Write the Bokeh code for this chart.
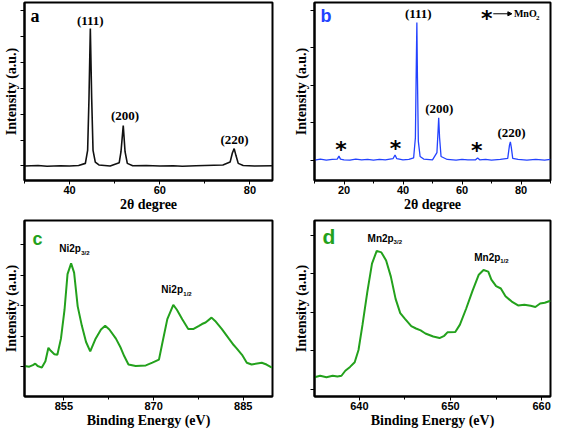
from bokeh.plotting import figure
from bokeh.layouts import column, row
from bokeh.models import FixedTicker, Label, Arrow, NormalHead, Range1d, CustomJSTickFormatter
from bokeh.embed import file_html
from bokeh.resources import INLINE

# ---------------- data ----------------
# (a) XRD, Ni
a_x = [30, 33, 35, 38, 40, 42, 43.5, 44.0, 44.3, 44.6, 44.9, 45.2, 45.7, 46.5, 49, 51.0, 51.4, 51.9,
       52.3, 52.8, 54, 57, 60, 63, 65, 68, 70, 74, 75.6, 76.1, 76.5, 76.9, 77.4, 78.5, 81, 85]
a_y = [0.0, 0.02, -0.01, 0.01, 0.0, 0.02, 0.1, 0.6, 2.6, 5.3, 2.6, 0.6, 0.15, 0.04, 0.0, 0.12, 0.55, 1.56,
       0.55, 0.1, 0.01, 0.02, 0.0, 0.01, -0.01, 0.01, 0.02, 0.04, 0.15, 0.5, 0.67, 0.4, 0.1, 0.02, 0.0, 0.01]
a_labels = ["(111)", "(200)", "(220)"]
a_label_x = [44.6, 52.3, 76.6]
a_label_y = [5.6, 1.96, 1.01]

# (b) XRD, Ni-MnO2
b_x = [10, 12, 14, 16, 17.7, 18.3, 18.8, 20, 22, 24, 26, 28, 30, 32, 34, 36.6, 37.3, 37.9, 40, 42, 43.6,
       44.2, 44.5, 44.7, 44.9, 45.2, 45.8, 47, 50, 51.5, 51.9, 52.1, 52.4, 52.9, 55, 58, 60, 62, 64.6,
       65.3, 66, 68, 70, 73, 75.5, 76.1, 76.4, 76.7, 77.2, 79, 82, 85, 88, 90]
b_y = [0.0, 0.03, 0.0, 0.02, 0.03, 0.11, 0.03, 0.01, 0.0, 0.03, 0.01, 0.02, 0.0, 0.02, 0.01, 0.04, 0.14, 0.04,
       0.01, 0.02, 0.06, 0.6, 2.5, 3.67, 2.2, 0.5, 0.1, 0.03, 0.01, 0.2, 0.8, 1.13, 0.6, 0.1, 0.02, 0.0, 0.02,
       0.01, 0.01, 0.06, 0.01, 0.02, 0.0, 0.02, 0.05, 0.4, 0.49, 0.35, 0.05, 0.02, 0.0, 0.02, 0.0, 0.02]
b_labels = ["(111)", "(200)", "(220)"]
b_label_x = [45.2, 52.3, 76.8]
b_label_y = [3.9, 1.38, 0.74]
b_star_x = [19.0, 37.5, 65.0]
b_star_y = [0.31, 0.33, 0.28]
b_legend_x = [68.4, 70.6, 76.9, 77.6]   # star, arrow start, arrow end, text
b_legend_y = 3.9

# (c) XPS Ni 2p
c_x = [848.4, 849.2, 849.8, 850.2, 850.6, 851.3, 851.9, 852.4, 852.8, 853.4, 853.9, 854.5, 855.1, 855.6,
       856.2, 856.7, 857.3, 858.0, 858.7, 859.4, 860.3, 861.2, 861.9, 862.6, 863.7, 864.5, 865.1, 865.8,
       867.0, 868.7, 869.8, 870.9, 871.4, 872.3, 873.3, 873.9, 874.8, 875.8, 876.7, 877.6, 878.1, 878.7,
       879.7, 880.3, 881.4, 882.6, 883.4, 883.9, 884.8, 885.6, 886.4, 888.1, 888.9, 889.8]
c_y = [0.02, 0.0, 0.05, 0.1, 0.02, -0.03, 0.18, 0.62, 0.52, 0.41, 0.39, 0.92, 1.87, 3.04,
       3.39, 3.09, 1.98, 1.34, 0.81, 0.5, 0.92, 1.22, 1.34, 1.22, 0.92, 0.62, 0.34, 0.07,
       0.02, 0.04, 0.13, 0.23, 0.71, 1.56, 2.03, 1.87, 1.56, 1.24, 1.24, 1.34, 1.4, 1.45,
       1.61, 1.5, 1.24, 0.92, 0.71, 0.6, 0.39, 0.13, 0.07, 0.13, 0.07, -0.03]
c_labels = ["Ni2p", "Ni2p"]
c_subs = ["3/2", "1/2"]
c_label_x = [854.2, 871.3]
c_label_y = [3.88, 2.53]

# (d) XPS Mn 2p
d_x = [635.07, 635.69, 636.38, 637.07, 637.59, 638.03, 638.45, 638.97, 639.48, 639.90, 640.34, 640.86,
       641.38, 641.90, 642.41, 642.93, 643.45, 643.97, 644.48, 645.00, 645.69, 646.21, 646.72, 647.24,
       648.10, 648.79, 649.31, 649.66, 650.52, 651.03, 651.72, 652.41, 653.10, 653.62, 654.14, 654.48,
       655.00, 655.52, 656.03, 656.72, 657.41, 658.10, 658.79, 659.31, 659.83, 660.34, 660.97]
d_y = [0.31, 0.35, 0.31, 0.35, 0.33, 0.35, 0.48, 0.58, 0.70, 1.02, 1.68, 2.52,
       3.27, 3.60, 3.56, 3.35, 2.93, 2.35, 1.98, 1.83, 1.64, 1.58, 1.53, 1.45,
       1.37, 1.33, 1.39, 1.48, 1.49, 1.68, 2.10, 2.56, 2.98, 3.10, 3.06, 2.85,
       2.68, 2.62, 2.42, 2.28, 2.18, 2.20, 2.17, 2.14, 2.23, 2.25, 2.30]
d_labels = ["Mn2p", "Mn2p"]
d_subs = ["3/2", "1/2"]
d_label_x = [640.9, 652.6]
d_label_y = [3.93, 3.43]

BLACK = "#111111"
BLUE = "#2342ff"
GREEN = "#23a11c"
SERIF = "Liberation Serif"
SANS = "Liberation Sans"


def make_fig(w, h, xr, yr, xticks, xminor, yticks, xlabel, mbl, mbr, mbt):
    p = figure(width=w, height=h, x_range=Range1d(*xr), y_range=Range1d(*yr),
               output_backend="svg", toolbar_location=None,
               min_border_left=mbl, min_border_right=mbr, min_border_top=mbt, min_border_bottom=0)
    p.grid.visible = False
    p.outline_line_color = "black"
    p.outline_line_width = 2
    p.outline_line_alpha = 1
    p.background_fill_color = "white"
    p.border_fill_color = "white"
    xa = p.xaxis[0]
    xa.ticker = FixedTicker(ticks=xticks, minor_ticks=xminor)
    xa.axis_label = xlabel
    xa.axis_label_text_font = SERIF
    xa.axis_label_text_font_style = "bold"
    xa.axis_label_text_font_size = "14px"
    xa.axis_label_text_color = "black"
    xa.axis_label_standoff = 0
    xa.major_label_text_font = SANS
    xa.major_label_text_font_style = "bold"
    xa.major_label_text_font_size = "11px"
    xa.major_label_text_color = "black"
    xa.major_label_standoff = 1
    xa.major_tick_out = 4
    xa.major_tick_in = 0
    xa.minor_tick_out = 3
    xa.minor_tick_in = 0
    xa.axis_line_width = 2
    xa.major_tick_line_width = 1
    ya = p.yaxis[0]
    ya.ticker = FixedTicker(ticks=yticks, minor_ticks=[])
    ya.formatter = CustomJSTickFormatter(code="return ''")
    ya.axis_label = "Intensity (a.u.)"
    ya.axis_label_text_font = SERIF
    ya.axis_label_text_font_style = "bold"
    ya.axis_label_text_font_size = "14px"
    ya.axis_label_text_color = "black"
    ya.axis_label_standoff = 2
    ya.major_label_standoff = 0
    ya.major_tick_out = 4
    ya.major_tick_in = 0
    ya.axis_line_width = 2
    return p


# ---- (a)
pa = make_fig(290, 214, (30, 85), (-0.56, 6.3), [40, 60, 80], [30, 50, 70],
              [0, 1, 2, 3, 4, 5, 6], "2θ degree", 5, 18, 2)
pa.line(a_x, a_y, line_color=BLACK, line_width=1.6)
for t, x, y in zip(a_labels, a_label_x, a_label_y):
    pa.add_layout(Label(x=x, y=y, text=t, text_align="center", text_baseline="middle",
                        text_font=SERIF, text_font_style="bold", text_font_size="13px", text_color="black"))
pa.add_layout(Label(x=30, y=6.3, x_offset=6, y_offset=-3, text="a", text_align="left", text_baseline="top",
                    text_font=SERIF, text_font_style="bold", text_font_size="18px", text_color="black"))

# ---- (b)
pb = make_fig(263, 214, (10, 90), (-0.54, 4.2), [20, 40, 60, 80], [10, 30, 50, 70, 90],
              [0, 1, 2, 3, 4], "2θ degree", 5, 3, 2)
pb.line(b_x, b_y, line_color=BLUE, line_width=1.3)
for t, x, y in zip(b_labels, b_label_x, b_label_y):
    pb.add_layout(Label(x=x, y=y, text=t, text_align="center", text_baseline="middle",
                        text_font=SERIF, text_font_style="bold", text_font_size="13px", text_color="black"))
for x, y in zip(b_star_x, b_star_y):
    pb.add_layout(Label(x=x, y=y, y_offset=-1, text="*", text_align="center", text_baseline="middle",
                        text_font="DejaVu Sans", text_font_style="bold", text_font_size="22px",
                        text_color="black"))
pb.add_layout(Label(x=b_legend_x[0], y=b_legend_y, y_offset=-5, text="*", text_align="center",
                    text_baseline="middle", text_font="DejaVu Sans", text_font_style="bold",
                    text_font_size="22px", text_color="black"))
pb.add_layout(Arrow(x_start=b_legend_x[1], y_start=b_legend_y, x_end=b_legend_x[2], y_end=b_legend_y,
                    line_width=1, line_color="black",
                    end=NormalHead(size=4, fill_color="black", line_color="black")))
pb.add_layout(Label(x=b_legend_x[3], y=b_legend_y, text="MnO", text_align="left", text_baseline="middle",
                    text_font=SERIF, text_font_style="bold", text_font_size="10px", text_color="black"))
pb.add_layout(Label(x=b_legend_x[3], y=b_legend_y, x_offset=22, y_offset=-4, text="2", text_align="left",
                    text_baseline="middle", text_font=SERIF, text_font_style="bold",
                    text_font_size="7px", text_color="black"))
pb.add_layout(Label(x=10, y=4.2, x_offset=6, y_offset=-3, text="b", text_align="left", text_baseline="top",
                    text_font=SANS, text_font_style="bold", text_font_size="18px", text_color=BLUE))

# ---- (c)
pc = make_fig(290, 216, (848.4, 889.9), (-0.98, 4.8), [855, 870, 885], [862.5, 877.5],
              [0, 1, 2, 3, 4], "Binding Energy (eV)", 5, 18, 6)
pc.line(c_x, c_y, line_color=GREEN, line_width=2)
for t, s, x, y in zip(c_labels, c_subs, c_label_x, c_label_y):
    pc.add_layout(Label(x=x, y=y, text=t, text_align="left", text_baseline="middle",
                        text_font=SANS, text_font_style="bold", text_font_size="10px", text_color="black"))
    pc.add_layout(Label(x=x, y=y, x_offset=22, y_offset=-4, text=s, text_align="left", text_baseline="middle",
                        text_font=SANS, text_font_style="bold", text_font_size="6px", text_color="black"))
pc.add_layout(Label(x=848.4, y=4.8, x_offset=8, y_offset=-8, text="c", text_align="left", text_baseline="top",
                    text_font=SANS, text_font_style="bold", text_font_size="18px", text_color=GREEN))

# ---- (d)
pd = make_fig(263, 216, (635.07, 660.97), (-0.19, 4.39), [640, 650, 660], [635, 645, 655],
              [0, 1, 2, 3, 4], "Binding Energy (eV)", 5, 3, 6)
pd.line(d_x, d_y, line_color=GREEN, line_width=2)
for t, s, x, y in zip(d_labels, d_subs, d_label_x, d_label_y):
    pd.add_layout(Label(x=x, y=y, text=t, text_align="left", text_baseline="middle",
                        text_font=SANS, text_font_style="bold", text_font_size="10px", text_color="black"))
    pd.add_layout(Label(x=x, y=y, x_offset=26, y_offset=-4, text=s, text_align="left", text_baseline="middle",
                        text_font=SANS, text_font_style="bold", text_font_size="6px", text_color="black"))
pd.add_layout(Label(x=635.07, y=4.39, x_offset=8, y_offset=-4, text="d", text_align="left", text_baseline="top",
                    text_font=SANS, text_font_style="bold", text_font_size="21px", text_color=GREEN))

layout = column(row(pa, pb), row(pc, pd))
open("out.html", "w").write(file_html(layout, INLINE))
